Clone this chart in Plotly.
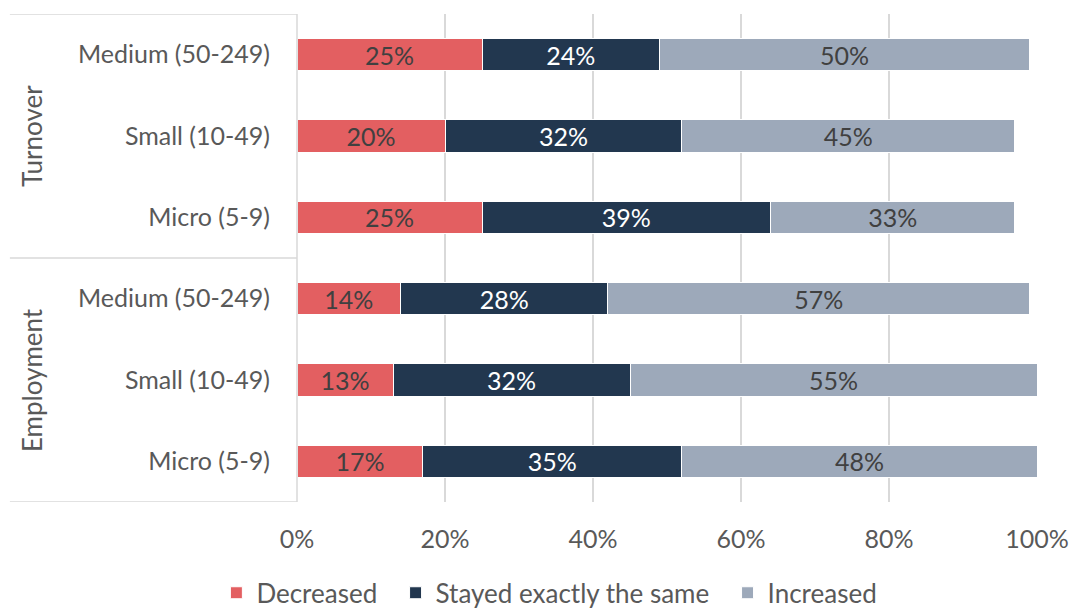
import plotly.graph_objects as go

groups = ["Turnover", "Employment"]
sizes = ["Medium (50-249)", "Small (10-49)", "Micro (5-9)"]
row_labels = sizes + sizes
series_names = ["Decreased", "Stayed exactly the same", "Increased"]
decreased = [25, 20, 25, 14, 13, 17]
same = [24, 32, 39, 28, 32, 35]
increased = [50, 45, 33, 57, 55, 48]
x_ticks = [0, 20, 40, 60, 80, 100]
x_ticktext = ["0%", "20%", "40%", "60%", "80%", "100%"]

colors = ["#E35F61", "#22374F", "#9DA9BA"]
text_colors = ["#404040", "#FFFFFF", "#404040"]
FONT = "Lato"
GREY = "#595959"

ypos = list(range(len(row_labels)))

fig = go.Figure()
for name, vals, c, tc in zip(series_names, [decreased, same, increased], colors, text_colors):
    fig.add_trace(go.Bar(
        y=ypos, x=vals, name=name + "  ", orientation="h",
        marker=dict(color=c, line=dict(color="white", width=1)),
        text=[f"{v}%" for v in vals], textposition="inside",
        insidetextanchor="middle",
        textfont=dict(family=FONT, size=25, color=tc),
        hoverinfo="skip",
    ))

fig.update_layout(
    barmode="stack", bargap=0.6,
    width=1069, height=610,
    margin=dict(l=297, r=32, t=14, b=108, autoexpand=False),
    plot_bgcolor="white", paper_bgcolor="white",
    font=dict(family=FONT, size=25, color=GREY),
    uniformtext=dict(minsize=25, mode="show"),
    xaxis=dict(range=[0, 100], tickvals=x_ticks, ticktext=x_ticktext,
               showgrid=True, gridcolor="#D9D9D9", gridwidth=1.5,
               zeroline=False, showline=False, ticks="", automargin=False,
               ticklabelstandoff=20, tickfont=dict(size=25, color=GREY)),
    yaxis=dict(tickvals=ypos, ticktext=row_labels, range=[5.5, -0.5],
               showgrid=False, zeroline=False, showline=False, ticks="",
               automargin=False,
               ticklabelstandoff=26, tickfont=dict(size=25, color=GREY)),
    legend=dict(orientation="h", yref="paper",
                x=0.52, xref="container", xanchor="center",
                y=-0.138, yanchor="top",
                font=dict(size=26, color=GREY), traceorder="normal",
                itemwidth=30),
    showlegend=True,
)

# group divider lines on the left
line_style = dict(color="#D9D9D9", width=1.5)
for yv in [-0.5, 2.5, 5.5]:
    fig.add_shape(type="line", xref="paper", yref="y", x0=-0.388, x1=0,
                  y0=yv, y1=yv, line=line_style)
fig.add_shape(type="line", xref="paper", yref="y", x0=0, x1=0,
              y0=-0.5, y1=5.5, line=line_style)

for gi, g in enumerate(groups):
    fig.add_annotation(text=g, xref="paper", yref="y", x=-0.358, y=gi * 3 + 1,
                       xanchor="center", yanchor="middle",
                       textangle=-90, showarrow=False,
                       font=dict(family=FONT, size=26, color=GREY))

fig.write_html("out.html")
